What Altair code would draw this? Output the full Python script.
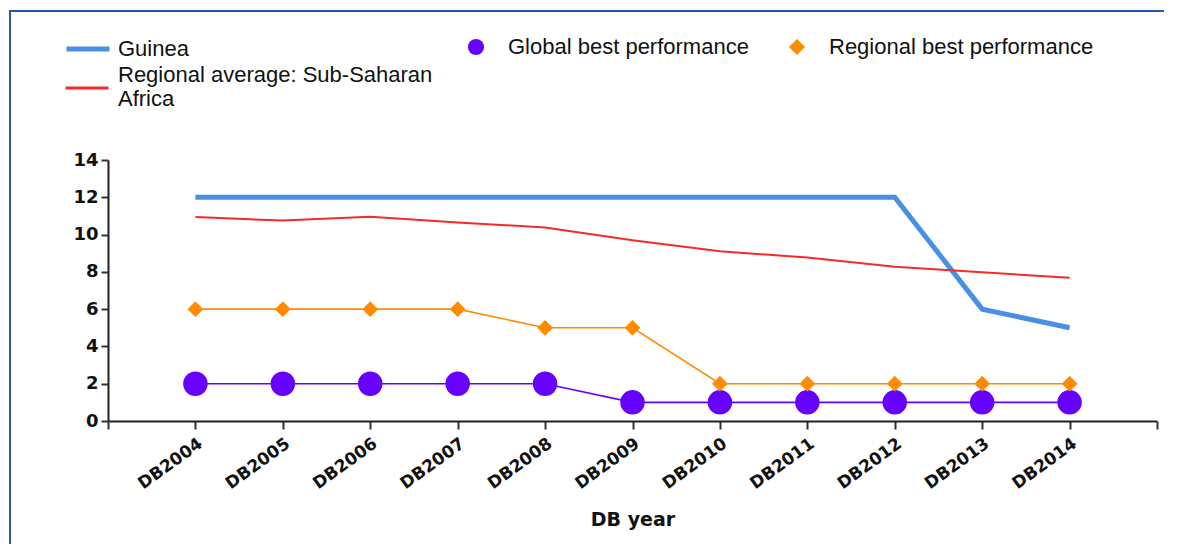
import json
import altair as alt
import pandas as pd

# ---- data ----
years = ["DB2004", "DB2005", "DB2006", "DB2007", "DB2008", "DB2009",
         "DB2010", "DB2011", "DB2012", "DB2013", "DB2014"]
guinea = [12, 12, 12, 12, 12, 12, 12, 12, 12, 6, 5]
regional_avg = [10.94, 10.75, 10.95, 10.65, 10.38, 9.7, 9.1, 8.77, 8.28, 7.98, 7.68]
global_best = [2, 2, 2, 2, 2, 1, 1, 1, 1, 1, 1]
regional_best = [6, 6, 6, 6, 5, 5, 2, 2, 2, 2, 2]

S_GUINEA = "Guinea"
S_AVG = "Regional average: Sub-Saharan Africa"
S_GLOBAL = "Global best performance"
S_RBEST = "Regional best performance"
AVG_WRAPPED = ["Regional average: Sub-Saharan", "Africa"]

point_series = [S_GLOBAL, S_RBEST]

rows = []
for name, vals in [(S_GUINEA, guinea), (S_AVG, regional_avg),
                   (S_GLOBAL, global_best), (S_RBEST, regional_best)]:
    for i, (yr, v) in enumerate(zip(years, vals)):
        rows.append({"pos": i + 1, "year": yr, "series": name, "value": v})
df = pd.DataFrame(rows)

FONT = "Liberation Sans"
AXFONT = "DejaVu Sans"

label_expr = ("datum.value >= 1 && datum.value <= %d ? %s[datum.value - 1] : ''"
              % (len(years), json.dumps(years)))

x_enc = alt.X(
    "pos:Q",
    scale=alt.Scale(domain=[0, len(years) + 1], nice=False, zero=False),
    axis=alt.Axis(
        values=list(range(len(years) + 2)),
        labelExpr=label_expr,
        labelAngle=-36,
        labelFont=AXFONT, labelFontSize=17, labelFontWeight="bold",
        labelColor="#111", labelPadding=6,
        title="DB year", titleFont=AXFONT, titleFontSize=19,
        titleFontWeight="bold", titleColor="#111", titlePadding=19,
        grid=False, tickSize=8, tickWidth=2, tickColor="#333",
        domainWidth=2, domainColor="#222", labelOverlap=False,
    ),
)
y_enc = alt.Y(
    "value:Q",
    scale=alt.Scale(domain=[0, 14], nice=False),
    axis=alt.Axis(
        values=list(range(0, 15, 2)),
        labelFont=AXFONT, labelFontSize=18, labelFontWeight="bold",
        labelColor="#111", labelPadding=3,
        title=None, grid=False, tickSize=7, tickWidth=2, tickColor="#333",
        domainWidth=2, domainColor="#222",
    ),
)


def line_legend(y, stroke_w, offset, baseline="middle", expr=None):
    kw = dict(
        orient="none", legendX=-44, legendY=y, direction="vertical",
        title=None, labelFont=FONT, labelFontSize=22, labelColor="#111",
        labelOffset=offset, labelLimit=0, symbolType="stroke", symbolSize=1849,
        symbolStrokeWidth=stroke_w, labelBaseline=baseline,
    )
    if expr:
        kw["labelExpr"] = expr
    return alt.Legend(**kw)


wrap_expr = "%s" % json.dumps(AVG_WRAPPED)

line_g = alt.Chart(df).transform_filter(
    alt.datum.series == S_GUINEA
).mark_line(strokeWidth=5).encode(
    x=x_enc, y=y_enc,
    color=alt.Color("series:N", scale=alt.Scale(domain=[S_GUINEA], range=["#4a8fe6"]),
                    legend=line_legend(-135, 5, 6)),
)
line_avg = alt.Chart(df).transform_filter(
    alt.datum.series == S_AVG
).mark_line(strokeWidth=2).encode(
    x=x_enc, y=y_enc,
    color=alt.Color("series:N", scale=alt.Scale(domain=[S_AVG], range=["#f52a2a"]),
                    legend=line_legend(-95, 3, 8, "line-bottom", wrap_expr)),
)

legend_b = alt.Legend(
    orient="none", legendX=357, legendY=-124, direction="horizontal",
    title=None, labelFont=FONT, labelFontSize=22, labelColor="#111",
    labelOffset=21, labelLimit=0, symbolSize=260, columnPadding=37,
    symbolStrokeWidth=0,
)
pb_colors = ["#6600ff", "#ff8c00"]
color_b = alt.Color("series:N", scale=alt.Scale(domain=point_series, range=pb_colors),
                    legend=legend_b)
shape_b = alt.Shape("series:N", scale=alt.Scale(domain=point_series, range=["circle", "diamond"]),
                    legend=legend_b)

base_b = alt.Chart(df).transform_filter(
    alt.FieldOneOfPredicate(field="series", oneOf=point_series))
lines_b = base_b.mark_line(strokeWidth=1.6).encode(x=x_enc, y=y_enc, color=color_b)
circ_b = alt.Chart(df).transform_filter(alt.datum.series == S_GLOBAL).mark_point(
    filled=True, opacity=1, size=600).encode(x=x_enc, y=y_enc, color=color_b, shape=shape_b)
diam_b = alt.Chart(df).transform_filter(alt.datum.series == S_RBEST).mark_point(
    filled=True, opacity=1, size=250).encode(x=x_enc, y=y_enc, color=color_b, shape=shape_b)
layer_b = alt.layer(lines_b, circ_b, diam_b)

# decorative frame (blue border at left and top of the panel)
frame_df = pd.DataFrame({"k": [0]})
frame_left = alt.Chart(frame_df).mark_rect(color="#1f5ba8").encode(
    x=alt.value(-99), x2=alt.value(-97), y=alt.value(-150), y2=alt.value(384))
frame_top = alt.Chart(frame_df).mark_rect(color="#1f5ba8").encode(
    x=alt.value(-99), x2=alt.value(1056), y=alt.value(-150), y2=alt.value(-148))

chart = alt.layer(frame_left, frame_top, line_g, line_avg, layer_b).resolve_scale(
    color="independent", shape="independent"
).resolve_legend(
    color="independent", shape="independent"
).properties(
    width=1049, height=261,
    autosize=alt.AutoSizeParams(type="none"),
    padding={"left": 100, "top": 152, "right": 13, "bottom": 125},
    background="white",
).configure_view(stroke=None)

chart.save("out.html", embed_options={"renderer": "svg", "actions": False})
